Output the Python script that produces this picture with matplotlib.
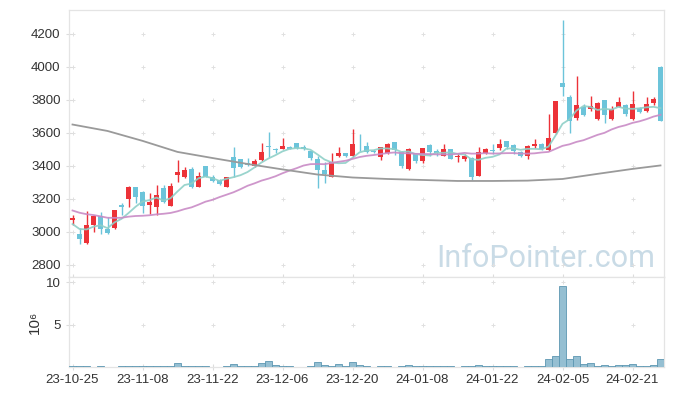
import matplotlib
matplotlib.use("Agg")
import matplotlib.pyplot as plt
import numpy as np
import pandas as pd

# daily candles, 2023-10-25 .. 2024-02-27 (85 trading days)
opens = [3073, 2990, 2935, 3045, 3095, 3015, 3025, 3162, 3200, 3270,
         3240, 3165, 3150, 3265, 3160, 3348, 3330, 3380, 3275, 3400,
         3330, 3315, 3275, 3455, 3440, 3418, 3400, 3438, 3518, 3500,
         3503, 3515, 3540, 3512, 3488, 3440, 3375, 3335, 3458, 3478,
         3458, 3522, 3520, 3490, 3455, 3478, 3545, 3485, 3383, 3475,
         3427, 3527, 3492, 3463, 3503, 3452, 3441, 3447, 3340, 3478,
         3497, 3508, 3550, 3527, 3484, 3460, 3522, 3530, 3497, 3598,
         3900, 3820, 3690, 3760, 3746, 3685, 3800, 3686, 3760, 3770,
         3686, 3750, 3730, 3784, 4000]
highs = [3103, 3025, 3125, 3100, 3120, 3090, 3135, 3175, 3280, 3275,
         3250, 3235, 3285, 3285, 3295, 3436, 3395, 3395, 3365, 3400,
         3345, 3320, 3335, 3515, 3445, 3448, 3440, 3540, 3605, 3510,
         3570, 3520, 3540, 3525, 3490, 3460, 3425, 3480, 3515, 3480,
         3625, 3592, 3545, 3495, 3515, 3540, 3545, 3490, 3510, 3480,
         3510, 3530, 3500, 3532, 3505, 3477, 3475, 3455, 3513, 3510,
         3535, 3563, 3552, 3530, 3490, 3525, 3562, 3540, 3713, 3795,
         4285, 3830, 3945, 3775, 3824, 3790, 3800, 3765, 3815, 3775,
         3855, 3755, 3815, 3815, 4005]
lows = [3040, 2930, 2925, 3000, 2990, 2990, 3020, 3100, 3150, 3175,
        3115, 3110, 3105, 3175, 3155, 3300, 3325, 3265, 3270, 3330,
        3300, 3285, 3275, 3330, 3385, 3398, 3395, 3430, 3455, 3480,
        3500, 3500, 3505, 3495, 3435, 3267, 3297, 3335, 3455, 3455,
        3455, 3488, 3478, 3480, 3435, 3475, 3467, 3390, 3375, 3420,
        3420, 3460, 3460, 3460, 3440, 3422, 3430, 3315, 3338, 3470,
        3475, 3495, 3505, 3470, 3455, 3445, 3510, 3495, 3490, 3595,
        3824, 3598, 3680, 3700, 3735, 3680, 3659, 3680, 3755, 3705,
        3680, 3720, 3725, 3770, 3670]
closes = [3085, 2960, 3045, 3095, 3020, 2995, 3135, 3152, 3270, 3210,
          3155, 3180, 3225, 3180, 3280, 3362, 3375, 3270, 3340, 3335,
          3310, 3290, 3335, 3390, 3395, 3405, 3430, 3485, 3512, 3495,
          3520, 3505, 3510, 3505, 3450, 3378, 3352, 3424, 3478, 3458,
          3533, 3518, 3482, 3485, 3512, 3533, 3497, 3397, 3503, 3427,
          3508, 3482, 3478, 3503, 3442, 3460, 3460, 3336, 3487, 3503,
          3490, 3533, 3515, 3490, 3460, 3520, 3533, 3502, 3571, 3794,
          3876, 3670, 3770, 3706, 3766, 3784, 3706, 3744, 3790, 3715,
          3774, 3724, 3774, 3804, 3675]
# volume in millions of shares
volumes = [0.1, 0.1, 0.1, 0.02, 0.1, 0.02, 0.02, 0.1, 0.1, 0.1,
           0.1, 0.1, 0.1, 0.1, 0.1, 0.45, 0.1, 0.1, 0.1, 0.1,
           0.02, 0.02, 0.1, 0.3, 0.1, 0.1, 0.1, 0.45, 0.7, 0.25,
           0.1, 0.1, 0.02, 0.02, 0.1, 0.55, 0.2, 0.1, 0.3, 0.1,
           0.55, 0.2, 0.1, 0.02, 0.1, 0.1, 0.02, 0.1, 0.2, 0.1,
           0.1, 0.1, 0.1, 0.1, 0.1, 0.02, 0.1, 0.1, 0.2, 0.1,
           0.1, 0.1, 0.1, 0.1, 0.02, 0.1, 0.1, 0.1, 0.9, 1.25,
           9.5, 0.9, 1.25, 0.3, 0.43, 0.1, 0.2, 0.1, 0.2, 0.2,
           0.3, 0.1, 0.1, 0.2, 0.9]
# closes of the 19 sessions before the window (only for the averages)
prior_closes = [3230, 3220, 3200, 3180, 3165, 3150, 3140, 3135, 3130, 3125,
                3120, 3115, 3110, 3180, 3160, 3110, 3060, 3010, 2975]
# 120 day average
ma120_idx = [0, 5, 10, 15, 20, 25, 30, 35, 40, 45, 50, 55, 60, 65, 70, 75, 80, 84]
ma120 = [3651, 3612, 3552, 3485, 3448, 3412, 3379, 3348, 3330, 3321,
         3315, 3309, 3309, 3311, 3321, 3352, 3382, 3403]

tick_pos = [0, 10, 20, 30, 40, 50, 60, 70, 80]
tick_labels = ['23-10-25', '23-11-08', '23-11-22', '23-12-06', '23-12-20',
               '24-01-08', '24-01-22', '24-02-05', '24-02-21']

UP = '#ec3238'
DOWN = '#6cc4da'
FONT = ['Liberation Sans', 'DejaVu Sans']
plt.rcParams['font.family'] = FONT

o = np.array(opens, float)
h = np.array(highs, float)
l = np.array(lows, float)
c = np.array(closes, float)
x = np.arange(len(c))

allc = pd.Series(prior_closes + closes)
ma5 = allc.rolling(5).mean().values[len(prior_closes):]
ma20 = allc.rolling(20).mean().values[len(prior_closes):]

fig = plt.figure(figsize=(6.73, 3.96), dpi=100)
ax = fig.add_axes([69 / 673, 1 - 277 / 396, 595 / 673, 267 / 396])
axv = fig.add_axes([69 / 673, 1 - 367 / 396, 595 / 673, 90 / 396], sharex=ax)

up = c >= o
cols = np.where(up, UP, DOWN)
ax.vlines(x, l, h, colors=cols, linewidth=1.0, zorder=2)
body = np.maximum(np.abs(c - o), 4)
ax.bar(x, body, bottom=np.minimum(o, c), width=0.72, color=cols, zorder=3)

ax.plot(x, ma5, color='#8fd0c8', lw=1.3, alpha=0.9, zorder=4)
ax.plot(x, ma20, color='#c98bc6', lw=1.3, alpha=0.9, zorder=4)
ax.plot(ma120_idx, ma120, color='#9a9a9a', lw=1.3, zorder=4)

ax.set_xlim(-0.5, 84.5)
ax.set_ylim(2727, 4345)
yt = [2800, 3000, 3200, 3400, 3600, 3800, 4000, 4200]
ax.set_yticks(yt)
ax.set_xticks(tick_pos)
ax.tick_params(axis='x', labelbottom=False)

axv.bar(x, volumes, width=1.0, color='#95bfd2', edgecolor='#5d97b2', linewidth=0.6, zorder=3)
axv.set_ylim(0, 10.6)
axv.set_yticks([5, 10])
axv.set_yticklabels(['5', '10'])
axv.set_xticks(tick_pos)
axv.set_xticklabels(tick_labels)
axv.set_ylabel('10⁶', fontsize=11, color='#333333', labelpad=3)

for a, ys in ((ax, yt), (axv, [5, 10])):
    gx, gy = np.meshgrid(tick_pos, ys)
    a.scatter(gx.ravel(), gy.ravel(), marker='+', s=10, color='#e0e0e0', linewidths=0.7, zorder=1)
    for s in a.spines.values():
        s.set_color('#e4e4e4')
        s.set_linewidth(0.9)
    a.tick_params(direction='inout', length=4, color='#dddddd', labelsize=9.5,
                  labelcolor='#333333', pad=4)
axv.tick_params(axis='x', pad=3)

ax.text(0.985, 0.0386, 'InfoPointer.com', transform=ax.transAxes, ha='right',
        va='baseline', fontsize=22, color='#c9dbe6', family=['Roboto', 'DejaVu Sans'],
        zorder=0)

fig.savefig('out.png', dpi=100)
